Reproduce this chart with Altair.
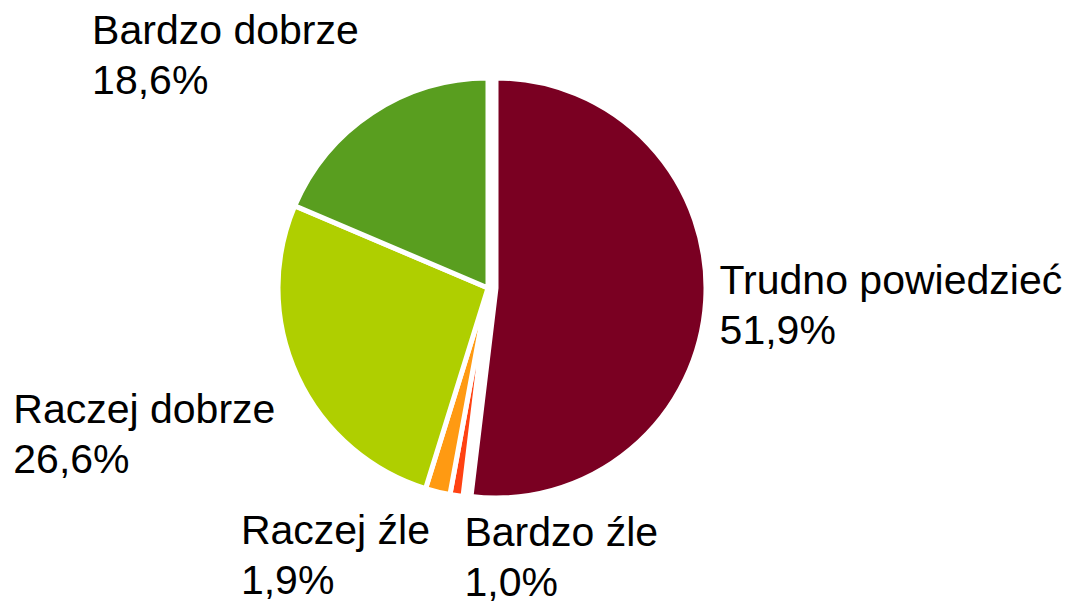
import altair as alt
import pandas as pd

categories = ["Trudno powiedzieć", "Bardzo źle", "Raczej źle", "Raczej dobrze", "Bardzo dobrze"]
values = [51.9, 1.0, 1.9, 26.6, 18.6]
value_labels = ["51,9%", "1,0%", "1,9%", "26,6%", "18,6%"]
colors = ["#7A0022", "#FF4212", "#FF9A12", "#AFCF00", "#599E1F"]

df = pd.DataFrame({
    "cat": categories,
    "value": values,
    "label": value_labels,
    "idx": list(range(len(categories))),
})

base = alt.Chart(df).transform_window(
    cum="sum(value)", sort=[alt.SortField("idx")]
).transform_calculate(
    start="datum.cum - datum.value",
    mid="datum.cum - datum.value / 2",
    txt="[datum.cat, datum.label]",
)

theta_scale = alt.Scale(domain=[0, 100])
color_scale = alt.Scale(domain=categories, range=colors)

CX, CY = 480, 280
R = 210

arcs_rest = base.transform_filter(alt.datum.idx > 0).mark_arc(
    outerRadius=R, stroke="white", strokeWidth=5
).encode(
    theta=alt.Theta("start:Q", scale=theta_scale),
    theta2="cum:Q",
    color=alt.Color("cat:N", scale=color_scale, legend=None),
    x=alt.value(CX), y=alt.value(CY),
)

arc_main = base.transform_filter(alt.datum.idx == 0).mark_arc(
    outerRadius=R, stroke="white", strokeWidth=5
).encode(
    theta=alt.Theta("start:Q", scale=theta_scale),
    theta2="cum:Q",
    color=alt.Color("cat:N", scale=color_scale, legend=None),
    x=alt.value(CX + 8), y=alt.value(CY),
)

offsets = {
    0: (2, -8),
    1: (11, 31),
    2: (-192, 33),
    3: (-266, 38),
    4: (-269, -52),
}

texts = []
for i, (dx, dy) in offsets.items():
    texts.append(
        base.transform_filter(alt.datum.idx == i).mark_text(
            radius=230, align="left", baseline="alphabetic",
            dx=dx, dy=dy, fontSize=41, lineHeight=50,
            font="Liberation Sans", color="black",
        ).encode(
            theta=alt.Theta("mid:Q", scale=theta_scale),
            text="txt:N",
            x=alt.value(CX), y=alt.value(CY),
        )
    )

chart = alt.layer(arcs_rest, arc_main, *texts).properties(
    width=1067, height=596, padding=0, autosize=alt.AutoSizeParams(type="none")
).configure_view(stroke=None)

chart.save("out.html", embed_options={"renderer": "svg", "actions": False})
